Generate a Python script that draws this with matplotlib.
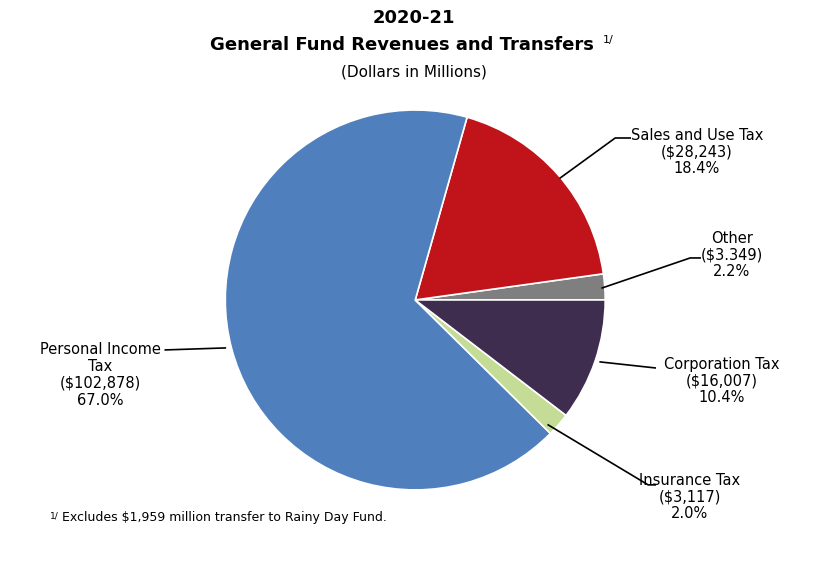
import matplotlib.pyplot as plt

# slices counterclockwise from 3 o'clock
names = ["Other", "Sales and Use Tax", "Personal Income\nTax", "Insurance Tax", "Corporation Tax"]
amounts = ["$3.349", "$28,243", "$102,878", "$3,117", "$16,007"]
shares = [2.2, 18.4, 67.0, 2.0, 10.4]
colors = ["#7f7f7f", "#c0141a", "#4f7fbd", "#c4dc96", "#3e2d4f"]

fig = plt.figure(figsize=(8.28, 5.67), dpi=100)
ax = fig.add_axes([0.272, 0.136, 0.459, 0.670])
ax.pie(shares, colors=colors, startangle=0, counterclock=True,
       wedgeprops=dict(edgecolor="white", linewidth=1.2))
ax.set_xlim(-1, 1)
ax.set_ylim(-1, 1)
ax.set_aspect("equal")

def d(px, py):
    return (px - 415) / 190, (300 - py) / 190

# leader lines (pixel points) and label positions
leaders = [
    [(602, 288), (690, 258), (700, 258)],
    [(560, 178), (615, 138), (630, 138)],
    [(225, 348), (165, 350)],
    [(548, 425), (648, 485), (655, 485)],
    [(600, 362), (655, 368)],
]
label_pos = [(732, 255), (697, 152), (100, 375), (690, 497), (722, 381)]

for i in range(len(shares)):
    pts = [d(*p) for p in leaders[i]]
    ax.plot([p[0] for p in pts], [p[1] for p in pts], color="black", lw=1.2, clip_on=False)
    x, y = label_pos[i]
    fig.text(x / 828, 1 - y / 567, f"{names[i]}\n({amounts[i]})\n{shares[i]:.1f}%",
             ha="center", va="center", fontsize=10.5, linespacing=1.15)

fig.text(0.5, 1 - 18 / 567, "2020-21", ha="center", va="center", fontsize=13, fontweight="bold")
fig.text(0.485, 1 - 45 / 567, "General Fund Revenues and Transfers", ha="center", va="center",
         fontsize=13, fontweight="bold")
fig.text(0.728, 1 - 40 / 567, "1/", ha="left", va="center", fontsize=8)
fig.text(0.5, 1 - 72 / 567, "(Dollars in Millions)", ha="center", va="center", fontsize=11)
fig.text(50 / 828, 1 - 516 / 567, "1/", ha="left", va="center", fontsize=6.5)
fig.text(62 / 828, 1 - 518 / 567, "Excludes $1,959 million transfer to Rainy Day Fund.",
         ha="left", va="center", fontsize=9)

fig.savefig("out.png", dpi=100)
